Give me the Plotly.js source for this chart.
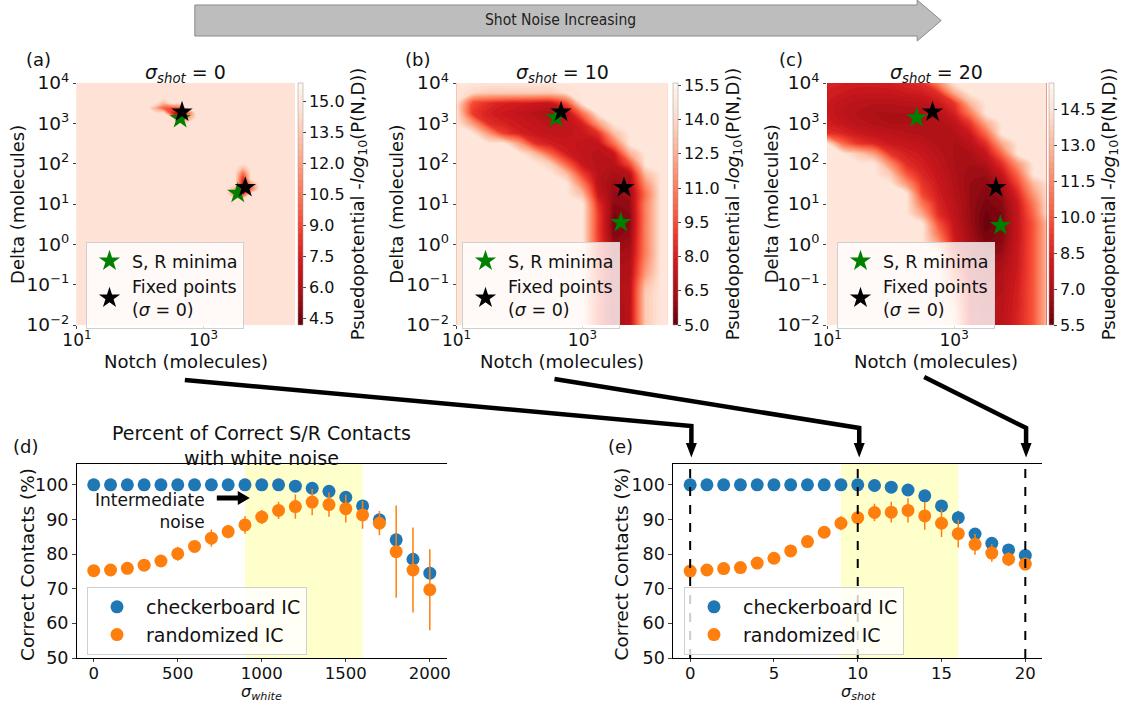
<!DOCTYPE html>
<html><head><meta charset="utf-8">
<script src="https://cdn.plot.ly/plotly-3.0.1.min.js"></script>
<style>html,body{margin:0;padding:0;background:#fff}#chart{width:1121px;height:704px}</style>
</head><body><div id="chart"></div>
<script>
const W = 1121, H = 704;
const FONT = 'DejaVu Sans, Verdana, sans-serif';

// ---------- top panels: pseudopotential grids (log10 units) ----------
const gridLogN = [1.0,1.25,1.5,1.75,2.0,2.25,2.5,2.75,3.0,3.25,3.5,3.75,4.0,4.25,4.5];
const gridLogD = [4.0,3.75,3.5,3.25,3.0,2.75,2.5,2.25,2.0,1.75,1.5,1.25,1.0,0.75,0.5,0.25,0.0,-0.25,-0.5,-0.75,-1.0,-1.25,-1.5,-1.75,-2.0]; // rows top -> bottom
const B = 14.6; // background (max) pseudopotential

// panel (b) sigma_shot = 10
const potB = [
 [B,B,B,B,B,B,B,B,B,B,B,B,B,B,B],
 [B,14,13.5,13.5,13.5,13.5,13.5,14.3,B,B,B,B,B,B,B],
 [B,9.5,8.5,8.0,7.8,7.6,7.5,9.5,B,B,B,B,B,B,B],
 [B,9.0,8.0,7.6,7.3,7.0,6.5,7.0,10.5,B,B,B,B,B,B],
 [B,12,8.5,8.0,7.6,7.3,7.0,7.2,8.0,12,B,B,B,B,B],
 [B,B,12,9.0,8.0,7.6,7.3,7.3,7.5,8.5,13,B,B,B,B],
 [B,B,B,B,12,8.5,7.8,7.5,7.3,7.3,10.5,B,B,B,B],
 [B,B,B,B,B,13,10,7.8,7.3,7.0,7.5,12.5,B,B,B],
 [B,B,B,B,B,B,13.5,10,7.5,7.0,7.0,9.5,B,B,B],
 [B,B,B,B,B,B,B,13,9.0,7.0,6.5,7.0,13,B,B],
 [B,B,B,B,B,B,B,B,11,7.0,6.2,6.5,11.5,B,B],
 [B,B,B,B,B,B,B,B,13,7.5,6.0,6.2,10.5,B,B],
 [B,B,B,B,B,B,B,B,B,8.5,5.8,6.0,11,B,B],
 [B,B,B,B,B,B,B,B,B,9.0,5.5,5.8,11,B,B],
 [B,B,B,B,B,B,B,B,B,9.0,5.4,5.8,11,B,B],
 [B,B,B,B,B,B,B,B,B,9.0,5.6,6.0,11,B,B],
 [B,B,B,B,B,B,B,B,B,9.2,6.0,6.3,11,B,B],
 [B,B,B,B,B,B,B,B,B,9.2,6.3,6.5,11,B,B],
 [B,B,B,B,B,B,B,B,B,9.3,6.5,6.7,11.5,B,B],
 [B,B,B,B,B,B,B,B,B,9.3,6.6,6.8,12,B,B],
 [B,B,B,B,B,B,B,B,B,9.3,6.7,7.0,13,B,B],
 [B,B,B,B,B,B,B,B,B,9.3,6.7,7.0,13.5,B,B],
 [B,B,B,B,B,B,B,B,B,9.3,6.6,7.0,13.5,B,B],
 [B,B,B,B,B,B,B,B,B,9.2,6.5,7.0,13.5,B,B],
 [B,B,B,B,B,B,B,B,B,9.2,6.5,7.0,13.5,B,B]
];

// panel (c) sigma_shot = 20
const potC = [
 [8.5,8.3,8.2,8.2,8.3,8.5,8.8,11.5,B,B,B,B,B,B,B],
 [8.2,8.0,7.8,7.8,7.8,8.0,8.2,8.8,12.5,B,B,B,B,B,B],
 [8.0,7.6,7.4,7.3,7.3,7.4,7.5,8.0,9.0,13,B,B,B,B,B],
 [8.0,7.5,7.2,7.0,7.0,7.0,7.0,7.3,8.3,11,B,B,B,B,B],
 [8.2,7.8,7.4,7.2,7.0,7.0,7.0,7.1,7.6,9.0,12.5,B,B,B,B],
 [8.8,8.5,8.0,7.7,7.5,7.3,7.2,7.1,7.2,8.0,10.5,B,B,B,B],
 [B,10.5,9.0,8.5,8.0,7.8,7.5,7.2,7.0,7.4,8.8,12.5,B,B,B],
 [B,B,13.5,12,9.0,8.3,7.9,7.4,7.0,7.0,7.8,10.5,B,B,B],
 [B,B,B,B,11.5,8.8,8.2,7.6,7.0,6.8,7.2,8.8,12,B,B],
 [B,B,B,B,13.5,10,8.5,7.8,7.1,6.6,6.6,7.8,10.5,B,B],
 [B,B,B,B,B,12,9.0,8.0,7.2,6.5,6.3,7.0,9.5,13,B],
 [B,B,B,B,B,B,9.5,8.2,7.3,6.5,6.1,6.5,8.5,12,B],
 [B,B,B,B,B,B,11,8.5,7.5,6.5,5.9,6.2,8.0,11,B],
 [B,B,B,B,B,B,12.5,8.8,7.6,6.5,5.7,6.0,7.8,10.5,B],
 [B,B,B,B,B,B,B,10,7.8,6.6,5.6,6.0,7.8,10,13.5],
 [B,B,B,B,B,B,B,11,8.0,6.7,5.8,6.1,7.8,10,13.5],
 [B,B,B,B,B,B,B,12.5,8.3,6.9,6.1,6.3,7.9,10,13.5],
 [B,B,B,B,B,B,B,B,9.5,7.1,6.4,6.6,8.0,10,13.5],
 [B,B,B,B,B,B,B,B,10,7.3,6.7,6.9,8.0,10,13.5],
 [B,B,B,B,B,B,B,B,11,7.5,6.9,7.1,8.1,10,13.5],
 [B,B,B,B,B,B,B,B,12,7.7,7.0,7.2,8.2,10,13.5],
 [B,B,B,B,B,B,B,B,13,7.8,7.1,7.3,8.3,10,13.5],
 [B,B,B,B,B,B,B,B,13.5,7.9,7.2,7.4,8.3,10,13.5],
 [B,B,B,B,B,B,B,B,14,8.0,7.3,7.4,8.4,10,13.5],
 [B,B,B,B,B,B,B,B,14,8.0,7.3,7.5,8.4,10,13.5]
];

// panel (a) sigma_shot = 0 : background everywhere except narrow wells (fine grid, step 0.125)
const fineStep = 0.125;
const wellLogN = [2.25,2.375,2.375,2.5,2.5,2.625,2.625,2.625,2.75,2.75, 3.625,3.625,3.625,3.625,3.625,3.625,3.75,3.75,3.5,3.5];
const wellLogD = [3.375,3.375,3.5,3.375,3.25,3.25,3.375,3.125,3.25,3.125, 1.875,1.75,1.625,1.5,1.375,1.25,1.375,1.5,1.25,1.375];
const wellPot  = [12.5,9.5,13,9,8,5.5,10,9,9.5,12, 13,10,8,6.5,5.5,8.5,10,12,10.5,12.5];

// stars
const minimaA_N = [427, 3467],  minimaA_D = [1318, 18.6];
const minimaB_N = [380, 4074],  minimaB_D = [1380, 3.5];
const minimaC_N = [257, 5370],  minimaC_D = [1380, 2.95];
const fixedN = [457, 4571], fixedD = [1905, 25.7];

// ---------- bottom panels ----------
const whiteX = [0,100,200,300,400,500,600,700,800,900,1000,1100,1200,1300,1400,1500,1600,1700,1800,1900,2000];
const whiteCheck = [100,100,100,100,100,100,100,100,100,100,100,100,99.6,99.0,98.1,96.4,93.9,89.9,84.1,78.5,74.5];
const whiteCheckErr = [0.2,0.2,0.2,0.2,0.2,0.2,0.2,0.2,0.2,0.2,0.2,0.3,0.5,0.8,1,1.5,1.5,1.5,2,2,2];
const whiteRand = [75.2,75.4,75.9,76.8,78.0,80.1,82.2,84.6,86.5,88.4,90.7,92.6,93.7,95.0,94.3,93.1,91.3,88.9,80.7,75.4,69.7];
const whiteRandErr = [1,1,1,1,1.5,2,1.5,2.5,2,2.5,2,2.5,3.5,3.8,3.5,4,4,3.5,13.3,12.3,11.7];

const shotX = [0,1,2,3,4,5,6,7,8,9,10,11,12,13,14,15,16,17,18,19,20];
const shotCheck = [100,100,100,100,100,100,100,100,100,100,100,99.8,99.3,98.5,96.8,93.9,90.5,85.8,83.1,81.2,79.6];
const shotCheckErr = [0.2,0.2,0.2,0.2,0.2,0.2,0.2,0.2,0.2,0.2,0.2,0.3,0.5,0.8,1,1.5,2,1.5,1,1,1];
const shotRand = [75.1,75.4,75.8,76.1,77.4,78.8,80.9,83.6,86.3,88.9,90.5,92.0,92.1,92.6,91.0,88.9,85.9,82.8,80.3,78.5,77.1];
const shotRandErr = [0.8,0.8,0.8,1,1,1.2,1.2,1.5,1.5,2,2,2.5,3,3.5,4,4,4,3,2.5,2,1.5];

const whiteBand = [900, 1600];
const shotBand = [9, 16];
const shotMarks = [0, 10, 20];

// ---------- helpers ----------
const px = x => x / W;
const py = y => 1 - y / H;
const redsR = [[0,'#67000d'],[0.125,'#a50f15'],[0.25,'#cb181d'],[0.375,'#ef3b2c'],[0.5,'#fb6a4a'],[0.625,'#fc9272'],[0.75,'#fcbba1'],[0.875,'#fee0d2'],[1,'#fff5f0']];
const BLUE = '#1f77b4', ORANGE = '#ff7f0e';

const xsCoarse = gridLogN.map(v => Math.pow(10, v));
const ysCoarse = gridLogD.slice().reverse().map(v => Math.pow(10, v));
const zB = potB.slice().reverse();
const zC = potC.slice().reverse();

const fineN = [], fineD = [];
for (let v = 1.0; v <= 4.5 + 1e-9; v += fineStep) fineN.push(+v.toFixed(3));
for (let v = -2.0; v <= 4.0 + 1e-9; v += fineStep) fineD.push(+v.toFixed(3));
const zA = fineD.map(() => fineN.map(() => B));
wellLogN.forEach((n, k) => {
  const i = fineD.findIndex(d => Math.abs(d - wellLogD[k]) < 1e-6);
  const j = fineN.findIndex(x => Math.abs(x - n) < 1e-6);
  if (i >= 0 && j >= 0) zA[i][j] = wellPot[k];
});

const cbTitle = 'Psuedopotential -<i>log</i><sub>10</sub>(P(N,D))';
function contour(x, y, z, zmin, zmax, tickvals, cbLeft, ax) {
  return {
    type: 'contour', x: x, y: y, z: z, xaxis: 'x' + ax, yaxis: 'y' + ax,
    zmin: zmin, zmax: zmax, zauto: false, autocontour: false,
    contours: {coloring: 'fill', showlines: false, start: zmin, end: zmax, size: (zmax - zmin) / 40},
    line: {width: 0, smoothing: 1},
    colorscale: redsR, hoverinfo: 'skip',
    colorbar: {
      x: px(cbLeft), xanchor: 'left', xpad: 0, ypad: 0,
      y: py(204), yanchor: 'middle', len: 242 / H, lenmode: 'fraction',
      thickness: 5, thicknessmode: 'pixels', outlinewidth: 0.5, outlinecolor: '#999',
      tickvals: tickvals, tickformat: '.1f', ticks: 'outside', ticklen: 3,
      tickfont: {size: 16, family: FONT, color: '#111'},
      title: {text: cbTitle, side: 'right', font: {size: 18, family: FONT, color: '#111'}}
    }
  };
}

const traces = [
  contour(fineN.map(v => Math.pow(10, v)), fineD.map(v => Math.pow(10, v)), zA, 4.2, 15.9, [4.5,6,7.5,9,10.5,12,13.5,15], 298, ''),
  contour(xsCoarse, ysCoarse, zB, 5.0, 15.6, [5,6.5,8,9.5,11,12.5,14,15.5], 673, '2'),
  contour(xsCoarse, ysCoarse, zC, 5.5, 15.6, [5.5,7,8.5,10,11.5,13,14.5], 1049, '3')
];
const minima = [[minimaA_N, minimaA_D], [minimaB_N, minimaB_D], [minimaC_N, minimaC_D]];
minima.forEach((m, k) => {
  const a = k === 0 ? '' : String(k + 1);
  const lg = k === 0 ? 'legend' : 'legend' + (k + 1);
  traces.push({type: 'scatter', mode: 'markers', x: m[0], y: m[1], xaxis: 'x' + a, yaxis: 'y' + a,
    name: 'S, R minima', legend: lg, marker: {symbol: 'star', size: 16, color: '#008000', line: {width: 0}}, hoverinfo: 'skip'});
  traces.push({type: 'scatter', mode: 'markers', x: fixedN, y: fixedD, xaxis: 'x' + a, yaxis: 'y' + a,
    name: 'Fixed points<br>(<i>σ</i> = 0)', legend: lg, marker: {symbol: 'star', size: 16, color: '#000', line: {width: 0}}, hoverinfo: 'skip'});
});
function dots(x, y, err, color, name, a, lg) {
  return {type: 'scatter', mode: 'markers', x: x, y: y, xaxis: 'x' + a, yaxis: 'y' + a, name: name, legend: lg,
    marker: {size: 13, color: color}, error_y: {type: 'data', array: err, visible: true, color: color, thickness: 1.5, width: 0},
    hoverinfo: 'skip'};
}
traces.push(dots(whiteX, whiteCheck, whiteCheckErr, BLUE, 'checkerboard IC', '4', 'legend4'));
traces.push(dots(whiteX, whiteRand, whiteRandErr, ORANGE, 'randomized IC', '4', 'legend4'));
traces.push(dots(shotX, shotCheck, shotCheckErr, BLUE, 'checkerboard IC', '5', 'legend5'));
traces.push(dots(shotX, shotRand, shotRandErr, ORANGE, 'randomized IC', '5', 'legend5'));

// axes
const powText = ['10<sup>−2</sup>','10<sup>−1</sup>','10<sup>0</sup>','10<sup>1</sup>','10<sup>2</sup>','10<sup>3</sup>','10<sup>4</sup>'];
function topX(l, r, rmax, anchor) {
  return {domain: [px(l), px(r)], anchor: anchor, type: 'log', range: [1, rmax], tickvals: [10, 1000],
    ticktext: ['10<sup>1</sup>', '10<sup>3</sup>'], ticks: 'outside', ticklen: 3, tickcolor: '#444',
    ticklabelstandoff: -3,
    showgrid: false, zeroline: false, showline: false, layer: 'above traces',
    tickfont: {size: 17, family: FONT, color: '#111'}};
}
function topY(anchor) {
  return {domain: [py(325), py(83)], anchor: anchor, type: 'log', range: [-2, 4],
    tickvals: [0.01, 0.1, 1, 10, 100, 1000, 10000], ticktext: powText, ticks: 'outside', ticklen: 3, tickcolor: '#444',
    showgrid: false, zeroline: false, showline: false, layer: 'above traces',
    tickfont: {size: 18.5, family: FONT, color: '#111'}};
}
function botX(l, r, range, tickvals, anchor) {
  return {domain: [px(l), px(r)], anchor: anchor, range: range, tickvals: tickvals, ticks: 'outside', ticklen: 3,
    ticklabelstandoff: -3,
    showgrid: false, zeroline: false, showline: true, linecolor: '#000', linewidth: 1, mirror: true,
    tickfont: {size: 16.5, family: FONT, color: '#111'}};
}
function botY(anchor) {
  return {domain: [py(658), py(464)], anchor: anchor, range: [50, 106], tickvals: [50,60,70,80,90,100],
    ticks: 'outside', ticklen: 4, showgrid: false, zeroline: false, showline: true, linecolor: '#000', linewidth: 1,
    tickfont: {size: 17.5, family: FONT, color: '#111'}};
}

const legTop = (l) => ({x: px(l), y: py(242), xanchor: 'left', yanchor: 'top', bgcolor: 'rgba(255,255,255,0.8)',
  bordercolor: '#d0d0d0', borderwidth: 1, font: {size: 17.5, family: FONT, color: '#111'}, tracegroupgap: 0, itemwidth: 35});
const legBot = (l) => ({x: px(l), y: py(587), xanchor: 'left', yanchor: 'top', bgcolor: 'rgba(255,255,255,0.8)',
  bordercolor: '#d0d0d0', borderwidth: 1, font: {size: 19, family: FONT, color: '#111'}, itemwidth: 48});

function P(pts) { return pts.map((p, i) => (i ? 'L' : 'M') + px(p[0]).toFixed(5) + ',' + py(p[1]).toFixed(5)).join(' '); }
const shapes = [
  {type: 'path', xref: 'paper', yref: 'paper', path: P([[195,5],[918,5],[918,0],[942,20.5],[918,41],[918,36],[195,36]]) + ' Z',
   fillcolor: '#bdbdbd', line: {color: '#8a8a8a', width: 1}},
  {type: 'path', xref: 'paper', yref: 'paper', path: P([[185,380],[692,426],[692,446]]), line: {color: '#000', width: 4.5}},
  {type: 'path', xref: 'paper', yref: 'paper', path: P([[555,379],[860,428],[860,446]]), line: {color: '#000', width: 4.5}},
  {type: 'path', xref: 'paper', yref: 'paper', path: P([[925,377],[1027,428],[1027,446]]), line: {color: '#000', width: 4.5}},
  {type: 'path', xref: 'paper', yref: 'paper', path: P([[686.5,443],[697.5,443],[692,457.5]]) + ' Z', fillcolor: '#000', line: {width: 0}},
  {type: 'path', xref: 'paper', yref: 'paper', path: P([[854.5,443],[865.5,443],[860,457.5]]) + ' Z', fillcolor: '#000', line: {width: 0}},
  {type: 'path', xref: 'paper', yref: 'paper', path: P([[1021.5,443],[1032.5,443],[1027,457.5]]) + ' Z', fillcolor: '#000', line: {width: 0}},
  {type: 'path', xref: 'paper', yref: 'paper', path: P([[217,495.5],[238,495.5],[238,491],[250,498],[238,505],[238,500.5],[217,500.5]]) + ' Z', fillcolor: '#000', line: {width: 0}},
  {type: 'rect', xref: 'x4', yref: 'y4 domain', x0: whiteBand[0], x1: whiteBand[1], y0: 0, y1: 1, fillcolor: '#ffffcc', line: {width: 0}, layer: 'below'},
  {type: 'rect', xref: 'x5', yref: 'y5 domain', x0: shotBand[0], x1: shotBand[1], y0: 0, y1: 1, fillcolor: '#ffffcc', line: {width: 0}, layer: 'below'}
];
shotMarks.forEach(v => shapes.push({type: 'line', xref: 'x5', yref: 'y5 domain', x0: v, x1: v, y0: 0, y1: 1,
  line: {color: '#000', width: 2, dash: 'dash'}, layer: 'above'}));

const ann = (x, y, text, size, extra) => Object.assign({xref: 'paper', yref: 'paper', x: px(x), y: py(y), text: text,
  showarrow: false, xanchor: 'center', yanchor: 'middle', borderpad: 0, font: {size: size, family: FONT, color: '#111'}}, extra || {});
const vert = {textangle: -90};
const atBottom = {yanchor: 'bottom'};
const annotations = [
  ann(561, 20, 'Shot Noise Increasing', 15.5, {font: {size: 15.5, family: 'DejaVu Sans Condensed, DejaVu Sans, sans-serif', color: '#222'}}),
  ann(39, 60, '(a)', 18), ann(418, 60, '(b)', 18), ann(792, 60, '(c)', 18),
  ann(26, 446, '(d)', 18), ann(621, 446, '(e)', 18),
  ann(186, 73, '<i>σ</i><sub><i>shot</i></sub> = 0', 19),
  ann(563, 73, '<i>σ</i><sub><i>shot</i></sub> = 10', 19),
  ann(937, 73, '<i>σ</i><sub><i>shot</i></sub> = 20', 19),
  // axis titles
  ann(186, 361, 'Notch (molecules)', 18), ann(563, 361, 'Notch (molecules)', 18), ann(937, 361, 'Notch (molecules)', 18),
  ann(17, 204, 'Delta (molecules)', 18, vert), ann(396, 204, 'Delta (molecules)', 18, vert), ann(772, 204, 'Delta (molecules)', 18, vert),
  ann(27, 564, 'Correct Contacts (%)', 18.5, vert), ann(622, 564, 'Correct Contacts (%)', 18.5, vert),
  ann(262, 703.5, '<i>σ</i><sub><i>white</i></sub>', 16, atBottom), ann(859, 703.5, '<i>σ</i><sub><i>shot</i></sub>', 16, atBottom),
  ann(262, 445, 'Percent of Correct S/R Contacts<br>with white noise', 19),
  ann(206, 511, 'Intermediate<br>noise', 17, {xanchor: 'right', align: 'right'})
];

const layout = {
  width: W, height: H, margin: {l: 0, r: 0, t: 0, b: 0}, paper_bgcolor: '#fff', plot_bgcolor: '#fff',
  font: {family: FONT, color: '#111'}, hovermode: false, showlegend: true,
  xaxis: topX(77, 295, 4.44, 'y'), yaxis: topY('x'),
  xaxis2: topX(457, 668, 4.35, 'y2'), yaxis2: topY('x2'),
  xaxis3: topX(828, 1047, 4.45, 'y3'), yaxis3: topY('x3'),
  xaxis4: botX(77, 447, [-100, 2100], [0,500,1000,1500,2000], 'y4'), yaxis4: botY('x4'),
  xaxis5: botX(674, 1043, [-1, 21], [0,5,10,15,20], 'y5'), yaxis5: botY('x5'),
  legend: legTop(86), legend2: legTop(462), legend3: legTop(837),
  legend4: legBot(87), legend5: legBot(684),
  shapes: shapes, annotations: annotations
};
Plotly.newPlot('chart', traces, layout, {displayModeBar: false, staticPlot: true});
</script></body></html>
